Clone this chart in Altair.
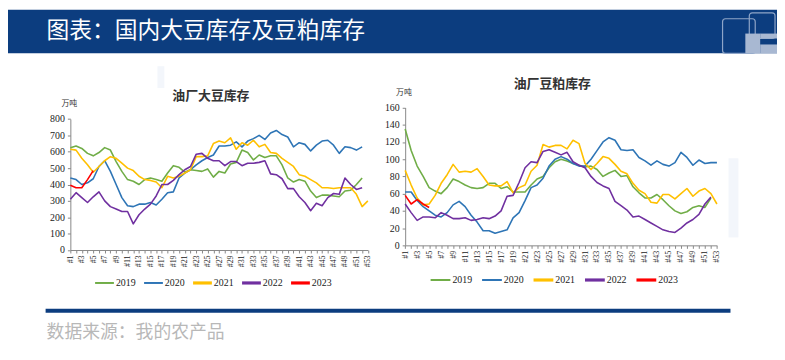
import altair as alt
import pandas as pd

# ---------------- data ----------------
years = ["2019", "2020", "2021", "2022", "2023"]
colors = ["#70AD47", "#2E75B6", "#FFC000", "#7030A0", "#FF0000"]
widths = [1.6, 1.6, 2.8, 2.8, 2.8]

# 油厂大豆库存 (万吨), by week
soy_2019 = [625, 635, 620, 590, 575, 595, 625, 610, 540, 480,
            430, 420, 400, 430, 440, 430, 420, 470, 515, 505,
            475, 490, 485, 480, 495, 445, 480, 470, 525, 535,
            610, 595, 550, 580, 565, 575, 575, 520, 440, 415,
            430, 420, 360, 320, 335, 335, 330, 325, 360, 365,
            400, 440]
soy_2020 = [440, 430, 400, 410, 435, 510, 545, 480, 400, 320,
            270, 265, 280, 280, 290, 275, 310, 350, 355, 440,
            470, 490, 520, 545, 565, 580, 635, 635, 640, 660,
            630, 665, 680, 700, 675, 715, 730, 705, 690, 630,
            655, 645, 605, 640, 665, 670, 640, 590, 630, 625,
            610, 630]
soy_2021 = [615, 610, 560, 520, 475, 510, 545, 570, 560, 530,
            500, 485, 450, 430, 425, 415, 380, 450, 440, 450,
            470, 490, 570, 570, 575, 650, 665, 655, 685, 615,
            655, 640, 670, 630, 645, 595, 590, 560, 535, 510,
            460, 450, 430, 410, 380, 380, 375, 380, 380, 380,
            340, 265, 300]
soy_2022 = [310, 350, 320, 290, 325, 355, 300, 265, 250, 235,
            235, 160, 215, 250, 280, 330, 400, 400, 425, 460,
            490, 510, 585, 590, 560, 545, 545, 515, 540, 540,
            515, 530, 530, 535, 545, 465, 460, 435, 375, 375,
            325, 290, 240, 285, 270, 320, 345, 340, 440, 400,
            370, 380]
soy_2023 = [395, 380, 380, 430, 485]

# 油厂豆粕库存 (万吨), by week
meal_2019 = [135, 110, 92, 80, 67, 63, 60, 67, 77, 74,
             70, 67, 66, 67, 72, 72, 66, 68, 62, 62,
             62, 70, 77, 80, 90, 97, 100, 98, 95, 93,
             91, 92, 88, 80, 84, 87, 80, 81, 68, 61,
             55, 55, 59, 53, 46, 40, 37, 39, 44, 46,
             44, 55]
meal_2020 = [62, 62, 52, 45, 40, 35, 33, 38, 47, 51,
             45, 35, 27, 17, 17, 14, 16, 18, 32, 38,
             52, 67, 70, 78, 92, 100, 103, 100, 95, 92,
             92, 100, 110, 120, 125, 122, 111, 110, 111, 102,
             98, 93, 98, 94, 92, 96, 108, 102, 93, 99,
             95, 96, 96]
meal_2021 = [87, 70, 55, 47, 48, 58, 72, 82, 94, 85,
             86, 85, 89, 80, 70, 69, 69, 74, 61, 67,
             70, 86, 93, 117, 114, 116, 116, 112, 122, 118,
             95, 88, 95, 103, 101, 94, 86, 83, 72, 64,
             60, 50, 49, 59, 59, 54, 60, 66, 57, 63,
             66, 60, 48]
meal_2022 = [48, 38, 29, 33, 33, 32, 38, 35, 31, 31,
             32, 29, 30, 32, 31, 34, 40, 57, 58, 73,
             90, 97, 96, 109, 111, 108, 105, 108, 97, 93,
             90, 80, 73, 69, 66, 51, 46, 41, 33, 34,
             30, 26, 22, 18, 16, 15, 20, 26, 30, 36,
             48, 56]
meal_2023 = [58, 48, 53, 48, 44]

soy_ticks = [0, 100, 200, 300, 400, 500, 600, 700, 800]
meal_ticks = [0, 20, 40, 60, 80, 100, 120, 140, 160]
weeks = list(range(1, 54))


def to_long(series):
    rows = []
    for yr, vals in zip(years, series):
        for i, v in enumerate(vals):
            rows.append({"year": yr, "week": i + 1, "value": v})
    return pd.DataFrame(rows)


soy_df = to_long([soy_2019, soy_2020, soy_2021, soy_2022, soy_2023])
meal_df = to_long([meal_2019, meal_2020, meal_2021, meal_2022, meal_2023])

# ---------------- layout (canvas pixels) ----------------
W, H = 777, 352
L_X = [63, 363.6]
L_Y = [242.7, 110.3]
R_X = [401.3, 716.3]
R_Y = [238, 98.7]
NAVY = "#0c3d7f"
SERIF = "'Liberation Serif', 'Times New Roman', serif"
CJK = "'Noto Sans CJK SC', sans-serif"

color_scale = alt.Scale(domain=years, range=colors)
sw_scale = alt.Scale(domain=years, range=widths)


def x_axis(offset):
    return alt.Axis(orient="bottom", offset=offset, values=weeks,
                    labelExpr="datum.value % 2 == 1 ? '#' + datum.value : ''",
                    labelAngle=-90, labelFont=SERIF, labelFontSize=8,
                    labelColor="#222", labelOverlap=False, labelFlush=False,
                    labelPadding=2, tickSize=3, tickColor="#888",
                    domainColor="#888", grid=False, title=None)


def y_axis(offset, vals):
    return alt.Axis(orient="left", offset=offset, values=vals,
                    labelFont=SERIF, labelFontSize=10, labelColor="#222",
                    labelPadding=3, tickSize=3, tickColor="#888",
                    domainColor="#888", grid=False, title=None,
                    labelFlush=False, labelOverlap=False)


def lines(df, xr, yr, ydom, ticks):
    return alt.Chart(df).mark_line(strokeJoin="round").encode(
        x=alt.X("week:Q", scale=alt.Scale(domain=[1, 53], range=xr, nice=False, zero=False),
                axis=x_axis(yr[0] - H)),
        y=alt.Y("value:Q", scale=alt.Scale(domain=ydom, range=yr, nice=False, zero=True),
                axis=y_axis(-xr[0], ticks)),
        color=alt.Color("year:N", scale=color_scale, legend=None),
        strokeWidth=alt.StrokeWidth("year:N", scale=sw_scale, legend=None),
    )


dummy = pd.DataFrame({"d": [0]})


def rect(x, x2, y, y2, **kw):
    return alt.Chart(dummy).mark_rect(**kw).encode(
        x=alt.value(x), x2=alt.value(x2), y=alt.value(y), y2=alt.value(y2))


def text(x, y, s, **kw):
    return alt.Chart(dummy).mark_text(**kw).encode(
        x=alt.value(x), y=alt.value(y), text=alt.value(s))


def rule(x, x2, y, **kw):
    return alt.Chart(dummy).mark_rule(**kw).encode(
        x=alt.value(x), x2=alt.value(x2), y=alt.value(y))


layers = []
# header band + logo
layers.append(rect(0, W, 0, 44, color=NAVY))
layers.append(rect(722, 755, 9, 44, filled=False, stroke="#8ea5c8", strokeWidth=1.2, cornerRadius=3))
layers.append(rect(749, 775, 3, 29, filled=False, stroke="#8ea5c8", strokeWidth=1.2, cornerRadius=3))
layers.append(rect(745, 760, 24, 44, color="#a8b8d2"))
layers.append(rect(760, 777, 24, 29, color="#a8b8d2"))
layers.append(rect(760, 777, 35, 44, color="#a8b8d2"))
layers.append(text(39, 21, "图表：国内大豆库存及豆粕库存", font=CJK, fontSize=23,
                   color="white", align="left", baseline="middle"))

# faint background decorations
layers.append(rect(151, 158, 57, 79, color="#f3f6fb"))
layers.append(rect(728, 738, 150, 230, color="#f3f6fb"))

# panel titles and units
layers.append(text(205, 87, "油厂大豆库存", font=CJK, fontSize=13, fontWeight="bold",
                   color="#333", align="center", baseline="middle"))
layers.append(text(550, 75, "油厂豆粕库存", font=CJK, fontSize=13, fontWeight="bold",
                   color="#333", align="center", baseline="middle"))
layers.append(text(62, 95, "万吨", font=CJK, fontSize=8, color="#333",
                   align="center", baseline="middle"))
layers.append(text(400, 84, "万吨", font=CJK, fontSize=8, color="#333",
                   align="center", baseline="middle"))

# data
layers.append(lines(soy_df, L_X, L_Y, [0, 800], soy_ticks))
layers.append(lines(meal_df, R_X, R_Y, [0, 160], meal_ticks))

# legends
for i, yr in enumerate(years):
    x0 = 88 + i * 49.5
    layers.append(rule(x0, x0 + 19, 276, color=colors[i], strokeWidth=widths[i] + 0.4))
    layers.append(text(x0 + 21, 276.5, yr, font=SERIF, fontSize=10, color="#222",
                       align="left", baseline="middle"))
    x1 = 427 + i * 52
    layers.append(rule(x1, x1 + 20, 273, color=colors[i], strokeWidth=widths[i] + 0.4))
    layers.append(text(x1 + 22, 273.5, yr, font=SERIF, fontSize=10, color="#222",
                       align="left", baseline="middle"))

# footer
layers.append(rect(38, 730, 302, 306, color=NAVY))
layers.append(text(39, 327, "数据来源：我的农产品", font=CJK, fontSize=18,
                   color="#b8b8b8", align="left", baseline="middle"))

chart = alt.layer(*layers).resolve_scale(
    x="independent", y="independent"
).properties(
    width=W, height=H, padding=0,
    autosize=alt.AutoSizeParams(type="none"),
).configure_view(stroke=None)

chart.save("out.html", embed_options={"renderer": "svg", "actions": False})
